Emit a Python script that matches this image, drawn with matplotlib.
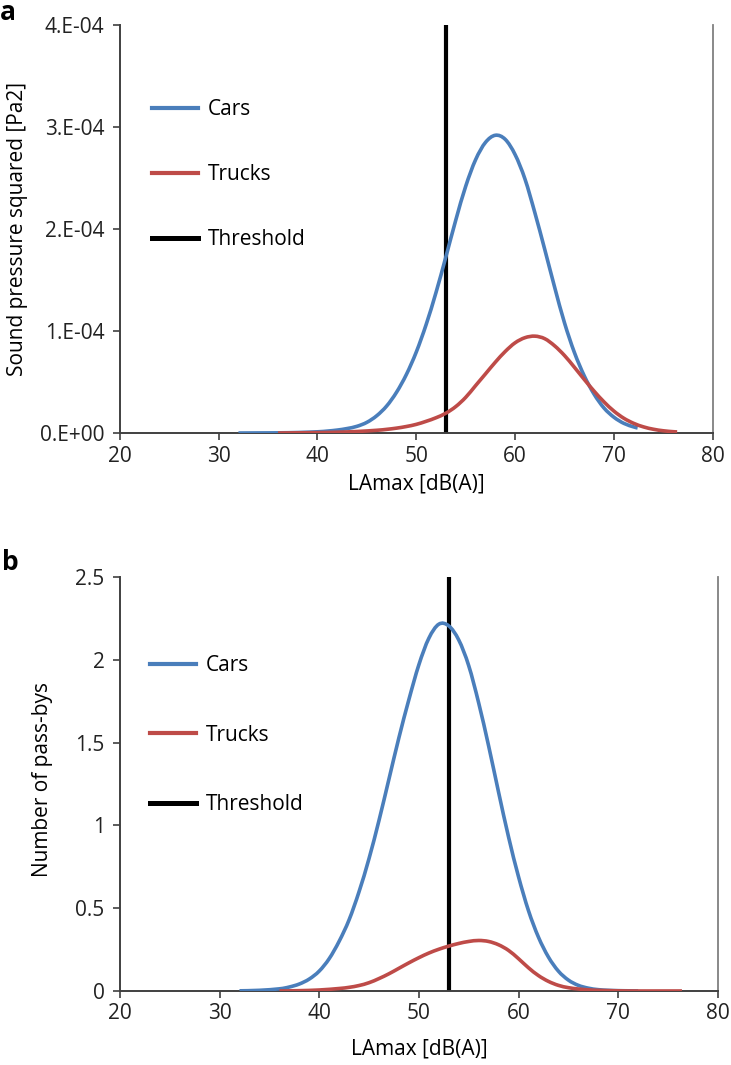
import numpy as np
import matplotlib
matplotlib.use('Agg')
import matplotlib.pyplot as plt
from matplotlib.lines import Line2D
from matplotlib.path import Path
from matplotlib.patches import PathPatch
from matplotlib.ticker import FuncFormatter

plt.rcParams['font.family'] = ['Open Sans', 'DejaVu Sans']

# ── data ────────────────────────────────────────────────────────
threshold = 53

# panel a: sound pressure squared [Pa2], values in 1E-04
cars_a_x = [32, 34, 36, 38, 40, 41, 42, 43, 44, 45, 46, 47, 48, 49, 50, 51, 52, 53,
            54, 55, 56, 57, 58, 59, 60, 61, 62, 63, 64, 65, 66, 67, 68, 69, 70, 71,
            72, 72.4]
cars_a_y = [0.000, 0.001, 0.002, 0.005, 0.012, 0.019, 0.029, 0.044, 0.066, 0.105,
            0.17, 0.265, 0.40, 0.575, 0.795, 1.065, 1.38, 1.73, 2.09, 2.42, 2.68,
            2.85, 2.92, 2.88, 2.73, 2.49, 2.16, 1.80, 1.43, 1.08, 0.79, 0.56, 0.38,
            0.245, 0.155, 0.095, 0.06, 0.05]

trucks_a_x = [36, 38, 40, 42, 44, 46, 47, 48, 49, 50, 51, 52, 53, 54, 55, 56, 57,
              58, 59, 60, 61, 62, 63, 64, 65, 66, 67, 68, 69, 70, 71, 72, 73, 74, 75,
              76, 76.4]
trucks_a_y = [0.000, 0.002, 0.004, 0.008, 0.015, 0.027, 0.036, 0.048, 0.064, 0.085,
              0.115, 0.15, 0.195, 0.26, 0.35, 0.465, 0.58, 0.695, 0.80, 0.885, 0.935,
              0.95, 0.925, 0.855, 0.76, 0.645, 0.525, 0.41, 0.305, 0.215, 0.145,
              0.095, 0.06, 0.037, 0.022, 0.013, 0.011]

# panel b: number of pass-bys
cars_b_x = [32, 34, 36, 37, 38, 39, 40, 41, 42, 43, 44, 45, 46, 47, 48, 49, 50, 51,
            52, 53, 54, 55, 56, 57, 58, 59, 60, 61, 62, 63, 64, 65, 66, 67, 68, 69,
            70, 71, 72]
cars_b_y = [0.001, 0.004, 0.013, 0.024, 0.042, 0.072, 0.12, 0.195, 0.30, 0.43, 0.60,
            0.80, 1.03, 1.28, 1.53, 1.76, 1.97, 2.13, 2.215, 2.205, 2.12, 1.965, 1.74,
            1.48, 1.20, 0.93, 0.69, 0.485, 0.325, 0.205, 0.12, 0.066, 0.034, 0.017,
            0.008, 0.004, 0.002, 0.001, 0.0]

trucks_b_x = [36, 38, 40, 42, 43, 44, 45, 46, 47, 48, 49, 50, 51, 52, 53, 54, 55, 56,
              57, 58, 59, 60, 61, 62, 63, 64, 65, 66, 67, 68, 70, 72, 74, 76.4]
trucks_b_y = [0.000, 0.002, 0.006, 0.015, 0.022, 0.033, 0.05, 0.075, 0.104, 0.137,
              0.17, 0.201, 0.229, 0.252, 0.271, 0.287, 0.299, 0.305, 0.299, 0.279,
              0.245, 0.195, 0.14, 0.093, 0.058, 0.034, 0.02, 0.012, 0.007, 0.004,
              0.001, 0.0, 0.0, 0.0]

x_ticks = [20, 30, 40, 50, 60, 70, 80]
y_ticks_a = [0, 1e-4, 2e-4, 3e-4, 4e-4]
y_ticks_b = [0, 0.5, 1, 1.5, 2, 2.5]

BLUE = '#4a7ebb'
RED = '#be4b48'
AXC = '#404040'
FS = 15


def smooth_path(x, y):
    # Excel-style smoothed line: Bezier segments through the points
    pts = np.column_stack([x, y]).astype(float)
    ext = np.vstack([pts[0], pts, pts[-1]])
    verts = [pts[0]]
    codes = [Path.MOVETO]
    for i in range(len(pts) - 1):
        p0, p1, p2, p3 = ext[i], ext[i + 1], ext[i + 2], ext[i + 3]
        verts += [p1 + (p2 - p0) / 6, p2 - (p3 - p1) / 6, p2]
        codes += [Path.CURVE4] * 3
    return Path(verts, codes)


def style_axes(ax, ylim, yticks):
    ax.set_xlim(20, 80)
    ax.set_ylim(*ylim)
    ax.set_xticks(x_ticks)
    ax.set_yticks(yticks)
    ax.spines['top'].set_visible(False)
    for s in ['left', 'bottom']:
        ax.spines[s].set_color(AXC)
        ax.spines[s].set_linewidth(1.4)
    ax.spines['right'].set_color('#808080')
    ax.spines['right'].set_linewidth(1.3)
    ax.tick_params(axis='both', direction='out', length=5, width=1.2,
                   color=AXC, labelsize=FS, labelcolor='#222222')
    ax.tick_params(axis='y', pad=6, right=False)
    ax.tick_params(axis='x', pad=4)


def draw(ax, cx, cy, tx, ty, top):
    ax.plot([threshold, threshold], [0, top], color='black', lw=3.0, zorder=2)
    for xs, ys, c, z in [(cx, cy, BLUE, 3), (tx, ty, RED, 4)]:
        ax.add_patch(PathPatch(smooth_path(xs, ys), fill=False, edgecolor=c,
                               lw=2.6, capstyle='butt', zorder=z))


def add_legend(ax, anchor, spacing):
    handles = [Line2D([], [], color=BLUE, lw=3),
               Line2D([], [], color=RED, lw=3),
               Line2D([], [], color='black', lw=3.6)]
    ax.legend(handles, ['Cars', 'Trucks', 'Threshold'], loc='upper left',
              bbox_to_anchor=anchor, frameon=False, fontsize=FS,
              handlelength=2.2, handletextpad=0.5, labelspacing=spacing,
              borderpad=0, borderaxespad=0)


fig = plt.figure(figsize=(7.31, 10.65), dpi=100)

# ── panel a ─────────────────────────────────────────────────────
ax1 = fig.add_axes([0.164, 0.5934, 0.811, 0.383])
draw(ax1, cars_a_x, np.array(cars_a_y) * 1e-4, trucks_a_x, np.array(trucks_a_y) * 1e-4, 4e-4)
style_axes(ax1, (0, 4e-4), y_ticks_a)
ax1.yaxis.set_major_formatter(FuncFormatter(lambda v, p: format(v, '#.0E')))
ax1.set_xlabel('LAmax [dB(A)]', fontsize=FS)
ax1.set_ylabel('Sound pressure squared [Pa2]', fontsize=FS)
ax1.xaxis.set_label_coords(0.5, -0.098)
ax1.yaxis.set_label_coords(-0.155, 0.5)
add_legend(ax1, (0.054, 0.818), 2.1)

# ── panel b ─────────────────────────────────────────────────────
ax2 = fig.add_axes([0.164, 0.0695, 0.818, 0.3887])
draw(ax2, cars_b_x, cars_b_y, trucks_b_x, trucks_b_y, 2.5)
style_axes(ax2, (0, 2.5), y_ticks_b)
ax2.yaxis.set_major_formatter(FuncFormatter(lambda v, p: f'{v:g}'))
ax2.set_xlabel('LAmax [dB(A)]', fontsize=FS)
ax2.set_ylabel('Number of pass-bys', fontsize=FS)
ax2.xaxis.set_label_coords(0.5, -0.114)
ax2.yaxis.set_label_coords(-0.112, 0.51)
add_legend(ax2, (0.05, 0.811), 2.32)

fig.text(0.0, 0.981, 'a', fontsize=19, fontweight='bold', va='baseline')
fig.text(0.003, 0.4648, 'b', fontsize=19, fontweight='bold', va='baseline')

fig.savefig('out.png', dpi=100)
